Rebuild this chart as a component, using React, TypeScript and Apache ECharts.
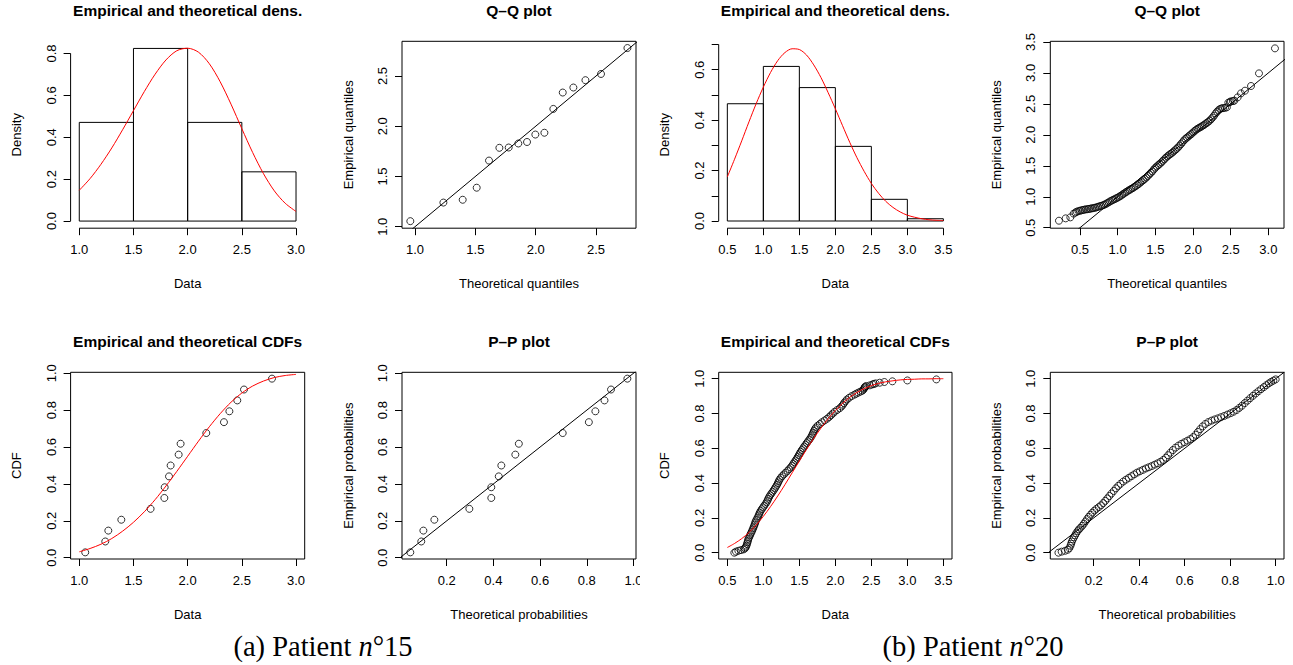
import React, { useEffect, useRef } from "react";
import * as echarts from "echarts";

// ---------- Patient 15 ----------
const p15Bins = [1.0, 1.5, 2.0, 2.5, 3.0];
const p15Density = [0.471, 0.824, 0.471, 0.235];
const p15CurveX = [1.0, 1.1, 1.2, 1.3, 1.4, 1.5, 1.6, 1.7, 1.8, 1.9, 2.0, 2.1, 2.2, 2.3, 2.4, 2.5, 2.6, 2.7, 2.8, 2.9, 3.0];
const p15DensCurve = [0.147, 0.203, 0.271, 0.349, 0.436, 0.527, 0.618, 0.701, 0.769, 0.813, 0.825, 0.806, 0.751, 0.665, 0.558, 0.441, 0.327, 0.226, 0.144, 0.085, 0.046];
const p15CdfCurve = [0.032, 0.05, 0.073, 0.104, 0.144, 0.192, 0.249, 0.315, 0.389, 0.468, 0.55, 0.632, 0.71, 0.781, 0.843, 0.893, 0.931, 0.958, 0.977, 0.988, 0.994];
const p15Data = [1.055, 1.24, 1.268, 1.388, 1.658, 1.785, 1.788, 1.828, 1.843, 1.917, 1.935, 2.172, 2.335, 2.385, 2.458, 2.52, 2.778];
const p15EmpProb = [0.029, 0.088, 0.147, 0.206, 0.265, 0.324, 0.382, 0.441, 0.5, 0.559, 0.618, 0.676, 0.735, 0.794, 0.853, 0.912, 0.971];
const p15TheoQuant = [0.961, 1.235, 1.395, 1.511, 1.613, 1.699, 1.776, 1.856, 1.928, 1.997, 2.072, 2.146, 2.224, 2.312, 2.412, 2.541, 2.76];
const p15TheoProb = [0.044, 0.091, 0.1, 0.147, 0.297, 0.391, 0.391, 0.423, 0.434, 0.494, 0.509, 0.697, 0.809, 0.837, 0.876, 0.904, 0.974];

// ---------- Patient 20 ----------
const p20Bins = [0.5, 1.0, 1.5, 2.0, 2.5, 3.0, 3.5];
const p20Density = [0.465, 0.613, 0.529, 0.296, 0.086, 0.009];
const p20CurveX = [0.5, 0.6, 0.7, 0.8, 0.9, 1.0, 1.1, 1.2, 1.3, 1.4, 1.5, 1.6, 1.7, 1.8, 1.9, 2.0, 2.1, 2.2, 2.3, 2.4, 2.5, 2.6, 2.7, 2.8, 2.9, 3.0, 3.1, 3.2, 3.3, 3.4, 3.5];
const p20DensCurve = [0.175, 0.245, 0.318, 0.393, 0.465, 0.531, 0.589, 0.636, 0.668, 0.683, 0.68, 0.658, 0.619, 0.569, 0.509, 0.445, 0.378, 0.312, 0.251, 0.197, 0.149, 0.11, 0.078, 0.054, 0.036, 0.023, 0.015, 0.009, 0.005, 0.003, 0.002];
const p20CdfCurve = [0.03, 0.053, 0.081, 0.116, 0.159, 0.209, 0.265, 0.326, 0.391, 0.459, 0.527, 0.594, 0.657, 0.716, 0.77, 0.817, 0.858, 0.893, 0.921, 0.943, 0.96, 0.973, 0.982, 0.988, 0.993, 0.996, 0.997, 0.999, 0.999, 1.0, 1.0];
const p20QQ = [
  [0.221, 0.613], [0.31, 0.651], [0.372, 0.667], [0.416, 0.727], [0.44, 0.745], [0.456, 0.758], [0.48, 0.768], [0.5, 0.775],
  [0.52, 0.781], [0.54, 0.787], [0.56, 0.792], [0.58, 0.796], [0.6, 0.8], [0.62, 0.804], [0.64, 0.808], [0.66, 0.813],
  [0.68, 0.818], [0.7, 0.823], [0.72, 0.83], [0.74, 0.838], [0.76, 0.846], [0.78, 0.853], [0.8, 0.86], [0.82, 0.87],
  [0.84, 0.882], [0.86, 0.895], [0.88, 0.91], [0.9, 0.925], [0.92, 0.938], [0.94, 0.95], [0.96, 0.962], [0.98, 0.974],
  [1.0, 0.986], [1.02, 1.0], [1.04, 1.015], [1.06, 1.032], [1.08, 1.05], [1.1, 1.066], [1.12, 1.082], [1.14, 1.098],
  [1.16, 1.112], [1.18, 1.126], [1.2, 1.14], [1.22, 1.156], [1.24, 1.172], [1.26, 1.19], [1.28, 1.208], [1.3, 1.228],
  [1.32, 1.248], [1.34, 1.268], [1.36, 1.288], [1.38, 1.31], [1.4, 1.335], [1.42, 1.36], [1.44, 1.385], [1.46, 1.41],
  [1.48, 1.44], [1.5, 1.468], [1.52, 1.49], [1.54, 1.512], [1.56, 1.532], [1.58, 1.555], [1.6, 1.58], [1.62, 1.605],
  [1.64, 1.63], [1.66, 1.652], [1.68, 1.672], [1.7, 1.69], [1.72, 1.708], [1.74, 1.728], [1.76, 1.75], [1.78, 1.772],
  [1.8, 1.795], [1.82, 1.822], [1.84, 1.85], [1.86, 1.88], [1.88, 1.91], [1.9, 1.935], [1.92, 1.955], [1.94, 1.975],
  [1.96, 1.995], [1.98, 2.015], [2.0, 2.038], [2.02, 2.06], [2.04, 2.08], [2.06, 2.098], [2.08, 2.112], [2.1, 2.125],
  [2.12, 2.14], [2.14, 2.155], [2.16, 2.172], [2.18, 2.19], [2.2, 2.208], [2.22, 2.228], [2.24, 2.252], [2.26, 2.28],
  [2.28, 2.31], [2.3, 2.345], [2.32, 2.375], [2.34, 2.4], [2.36, 2.418], [2.38, 2.428], [2.4, 2.432], [2.425, 2.436],
  [2.45, 2.445], [2.469, 2.52], [2.49, 2.53], [2.504, 2.541], [2.53, 2.545], [2.549, 2.552], [2.593, 2.606], [2.637, 2.67],
  [2.69, 2.713], [2.77, 2.789], [2.876, 2.993], [3.088, 3.397],
];
const p20Cdf = [
  [0.597, 0.0], [0.62, 0.006], [0.653, 0.011], [0.69, 0.015], [0.727, 0.019], [0.745, 0.025], [0.755, 0.031], [0.765, 0.04],
  [0.773, 0.05], [0.78, 0.06], [0.787, 0.07], [0.793, 0.08], [0.805, 0.09], [0.815, 0.1], [0.826, 0.11], [0.838, 0.12],
  [0.848, 0.13], [0.858, 0.14], [0.868, 0.15], [0.877, 0.16], [0.885, 0.17], [0.893, 0.18], [0.905, 0.19], [0.918, 0.2],
  [0.93, 0.21], [0.94, 0.22], [0.95, 0.23], [0.962, 0.24], [0.978, 0.25], [0.995, 0.26], [1.012, 0.27], [1.03, 0.28],
  [1.045, 0.29], [1.058, 0.3], [1.068, 0.31], [1.08, 0.32], [1.095, 0.33], [1.112, 0.34], [1.128, 0.35], [1.145, 0.36],
  [1.16, 0.37], [1.175, 0.38], [1.19, 0.39], [1.202, 0.4], [1.213, 0.41], [1.225, 0.42], [1.24, 0.43], [1.262, 0.44],
  [1.285, 0.45], [1.31, 0.46], [1.335, 0.47], [1.358, 0.48], [1.38, 0.49], [1.4, 0.5], [1.415, 0.51], [1.43, 0.52],
  [1.448, 0.53], [1.463, 0.54], [1.478, 0.55], [1.492, 0.56], [1.505, 0.57], [1.518, 0.58], [1.535, 0.59], [1.552, 0.6],
  [1.568, 0.61], [1.585, 0.62], [1.603, 0.63], [1.62, 0.64], [1.64, 0.65], [1.655, 0.66], [1.67, 0.67], [1.682, 0.68],
  [1.692, 0.69], [1.703, 0.7], [1.715, 0.71], [1.732, 0.72], [1.755, 0.73], [1.785, 0.74], [1.815, 0.75], [1.85, 0.76],
  [1.885, 0.77], [1.915, 0.78], [1.94, 0.79], [1.965, 0.8], [1.99, 0.81], [2.025, 0.82], [2.06, 0.83], [2.085, 0.84],
  [2.105, 0.85], [2.12, 0.86], [2.14, 0.87], [2.16, 0.88], [2.19, 0.89], [2.225, 0.9], [2.264, 0.908], [2.29, 0.914],
  [2.319, 0.92], [2.35, 0.926], [2.375, 0.931], [2.39, 0.937], [2.4, 0.944], [2.408, 0.95], [2.412, 0.954], [2.43, 0.958],
  [2.48, 0.962], [2.514, 0.967], [2.535, 0.97], [2.56, 0.973], [2.616, 0.977], [2.681, 0.981], [2.792, 0.985], [3.0, 0.99],
  [3.403, 0.996],
];
const p20PP = [
  [0.045, 0.0], [0.059, 0.006], [0.074, 0.011], [0.086, 0.017], [0.093, 0.026], [0.098, 0.04], [0.101, 0.052], [0.104, 0.064],
  [0.108, 0.076], [0.113, 0.088], [0.118, 0.1], [0.123, 0.112], [0.129, 0.124], [0.135, 0.134], [0.142, 0.143], [0.15, 0.155],
  [0.157, 0.167], [0.164, 0.18], [0.171, 0.193], [0.178, 0.206], [0.186, 0.218], [0.194, 0.23], [0.203, 0.242], [0.212, 0.252],
  [0.222, 0.262], [0.232, 0.272], [0.242, 0.285], [0.251, 0.298], [0.26, 0.312], [0.269, 0.326], [0.278, 0.34], [0.288, 0.355],
  [0.298, 0.37], [0.308, 0.384], [0.318, 0.396], [0.33, 0.409], [0.342, 0.42], [0.354, 0.43], [0.366, 0.44], [0.378, 0.45],
  [0.39, 0.46], [0.403, 0.468], [0.416, 0.476], [0.429, 0.484], [0.442, 0.491], [0.455, 0.498], [0.468, 0.506], [0.481, 0.514],
  [0.494, 0.523], [0.506, 0.533], [0.517, 0.546], [0.527, 0.56], [0.537, 0.575], [0.548, 0.59], [0.56, 0.604], [0.573, 0.616],
  [0.586, 0.626], [0.599, 0.635], [0.612, 0.644], [0.625, 0.653], [0.637, 0.664], [0.648, 0.678], [0.658, 0.694], [0.668, 0.71],
  [0.679, 0.726], [0.691, 0.74], [0.704, 0.751], [0.718, 0.759], [0.732, 0.766], [0.746, 0.772], [0.76, 0.779], [0.774, 0.786],
  [0.788, 0.794], [0.802, 0.802], [0.815, 0.81], [0.828, 0.82], [0.84, 0.832], [0.852, 0.845], [0.864, 0.86], [0.876, 0.874],
  [0.888, 0.888], [0.9, 0.902], [0.912, 0.915], [0.924, 0.928], [0.936, 0.94], [0.948, 0.952], [0.959, 0.963], [0.97, 0.973],
  [0.98, 0.982], [0.99, 0.989], [1.0, 0.996],
];

// ---------- tick values ----------
const ticksX15 = [1.0, 1.5, 2.0, 2.5, 3.0];
const ticksDens15 = [0.0, 0.2, 0.4, 0.6, 0.8];
const ticksQQ15 = [1.0, 1.5, 2.0, 2.5];
const ticksX20 = [0.5, 1.0, 1.5, 2.0, 2.5, 3.0, 3.5];
const ticksDens20 = [0.0, 0.1, 0.2, 0.3, 0.4, 0.5, 0.6, 0.7];
const labelsDens20 = [0.0, 0.2, 0.4, 0.6];
const ticksQQ20x = [0.5, 1.0, 1.5, 2.0, 2.5, 3.0];
const ticksQQ20y = [0.5, 1.0, 1.5, 2.0, 2.5, 3.0, 3.5];
const ticksProb = [0.0, 0.2, 0.4, 0.6, 0.8, 1.0];
const ticksProbX = [0.2, 0.4, 0.6, 0.8, 1.0];

const SANS = '"Liberation Sans", Arial, Helvetica, sans-serif';
const SERIF = '"Liberation Serif", "Times New Roman", serif';

type PanelSpec = {
  left: number; top: number; width: number; height: number; box: boolean;
  xMin: number; xMax: number; yMin: number; yMax: number;
  xTicks: number[]; xLabels: number[]; yTicks: number[]; yLabels: number[];
};

const panels: PanelSpec[] = [
  { left: 70.6, top: 41.3, width: 234.1, height: 186.9, box: false, xMin: 0.92, xMax: 3.08, yMin: -0.034, yMax: 0.858, xTicks: ticksX15, xLabels: ticksX15, yTicks: ticksDens15, yLabels: ticksDens15 },
  { left: 402, top: 41.3, width: 234, height: 186.9, box: true, xMin: 0.892, xMax: 2.831, yMin: 0.985, yMax: 2.845, xTicks: ticksQQ15, xLabels: ticksQQ15, yTicks: ticksQQ15, yLabels: ticksQQ15 },
  { left: 718.7, top: 41.3, width: 233.3, height: 186.9, box: false, xMin: 0.38, xMax: 3.62, yMin: -0.0285, yMax: 0.7126, xTicks: ticksX20, xLabels: ticksX20, yTicks: ticksDens20, yLabels: labelsDens20 },
  { left: 1050.3, top: 41.3, width: 233.7, height: 186.9, box: true, xMin: 0.106, xMax: 3.208, yMin: 0.492, yMax: 3.511, xTicks: ticksQQ20x, xLabels: ticksQQ20x, yTicks: ticksQQ20y, yLabels: ticksQQ20y },
  { left: 70.6, top: 372.3, width: 234.1, height: 186.7, box: true, xMin: 0.92, xMax: 3.08, yMin: -0.007, yMax: 1.0054, xTicks: ticksX15, xLabels: ticksX15, yTicks: ticksProb, yLabels: ticksProb },
  { left: 402, top: 372.3, width: 234, height: 186.7, box: true, xMin: 0.0084, xMax: 1.011, yMin: -0.007, yMax: 1.0054, xTicks: ticksProbX, xLabels: ticksProbX, yTicks: ticksProb, yLabels: ticksProb },
  { left: 718.7, top: 372.3, width: 233.3, height: 186.7, box: true, xMin: 0.38, xMax: 3.62, yMin: -0.0362, yMax: 1.0368, xTicks: ticksX20, xLabels: ticksX20, yTicks: ticksProb, yLabels: ticksProb },
  { left: 1050.3, top: 372.3, width: 233.7, height: 186.7, box: true, xMin: 0.0092, xMax: 1.0365, yMin: -0.0362, yMax: 1.0368, xTicks: ticksProbX, xLabels: ticksProbX, yTicks: ticksProb, yLabels: ticksProb },
];

const mainTitles = [
  "Empirical and theoretical dens.", "Q–Q plot", "Empirical and theoretical dens.", "Q–Q plot",
  "Empirical and theoretical CDFs", "P–P plot", "Empirical and theoretical CDFs", "P–P plot",
];
const xTitles = ["Data", "Theoretical quantiles", "Data", "Theoretical quantiles", "Data", "Theoretical probabilities", "Data", "Theoretical probabilities"];
const yTitles = ["Density", "Empirical quantiles", "Density", "Empirical quantiles", "CDF", "Empirical probabilities", "CDF", "Empirical probabilities"];

const fmt = (v: number) => Number(v).toFixed(1);

function buildOption() {
  const grid = panels.map((p) => ({
    left: p.left, top: p.top, width: p.width, height: p.height,
    show: p.box, borderColor: "#000", borderWidth: 1, backgroundColor: "transparent",
    containLabel: false, outerBoundsMode: "none",
  }));
  const xAxis = panels.map((p, i) => ({
    type: "value", gridIndex: i, min: p.xMin, max: p.xMax, position: "bottom",
    axisLine: { show: false, onZero: false },
    splitLine: { show: false },
    axisTick: { show: true, inside: false, length: 7, customValues: p.xTicks, lineStyle: { color: "#000", width: 1 } },
    axisLabel: { show: true, customValues: p.xLabels, margin: 15, fontSize: 13, fontFamily: SANS, color: "#000", formatter: fmt },
  }));
  const yAxis = panels.map((p, i) => ({
    type: "value", gridIndex: i, min: p.yMin, max: p.yMax, position: "left",
    axisLine: { show: false, onZero: false },
    splitLine: { show: false },
    axisTick: { show: true, inside: false, length: 7, customValues: p.yTicks, lineStyle: { color: "#000", width: 1 } },
    axisLabel: { show: true, customValues: p.yLabels, rotate: 90, margin: 13, fontSize: 13, fontFamily: SANS, color: "#000", formatter: fmt },
  }));

  const series: any[] = [];
  const histo = (gi: number, bins: number[], dens: number[]) => ({
    type: "custom", xAxisIndex: gi, yAxisIndex: gi, silent: true,
    data: dens.map((d, k) => [bins[k], bins[k + 1], d]),
    encode: { x: [0, 1], y: 2 },
    renderItem: (_params: any, api: any) => {
      const a = api.coord([api.value(0), api.value(2)]);
      const b = api.coord([api.value(1), 0]);
      return {
        type: "rect",
        shape: { x: a[0], y: a[1], width: b[0] - a[0], height: b[1] - a[1] },
        style: { fill: "none", stroke: "#000", lineWidth: 1 },
      };
    },
  });
  const line = (gi: number, data: number[][], color: string, smooth: boolean | number, clip = true) => ({
    type: "line", xAxisIndex: gi, yAxisIndex: gi, data, showSymbol: false, symbol: "none", smooth,
    lineStyle: { color, width: 1 }, silent: true, clip, animation: false, z: 3,
  });
  const pts = (gi: number, data: number[][]) => ({
    type: "scatter", xAxisIndex: gi, yAxisIndex: gi, data, symbol: "circle", symbolSize: 7, silent: true,
    itemStyle: { color: "rgba(0,0,0,0)", borderColor: "#000", borderWidth: 1 }, z: 2,
  });
  const zip = (a: number[], b: number[]) => a.map((v, k) => [v, b[k]]);

  // P1 density p15
  series.push(histo(0, p15Bins, p15Density));
  series.push(line(0, zip(p15CurveX, p15DensCurve), "#ff0000", 0.3));
  series.push(line(0, [[ticksX15[0], panels[0].yMin], [ticksX15[ticksX15.length - 1], panels[0].yMin]], "#000", false, false));
  series.push(line(0, [[panels[0].xMin, ticksDens15[0]], [panels[0].xMin, ticksDens15[ticksDens15.length - 1]]], "#000", false, false));
  // P2 QQ p15
  series.push(pts(1, zip(p15TheoQuant, p15Data)));
  series.push(line(1, [[0, 0], [4, 4]], "#000", false));
  // P3 density p20
  series.push(histo(2, p20Bins, p20Density));
  series.push(line(2, zip(p20CurveX, p20DensCurve), "#ff0000", 0.3));
  series.push(line(2, [[ticksX20[0], panels[2].yMin], [ticksX20[ticksX20.length - 1], panels[2].yMin]], "#000", false, false));
  series.push(line(2, [[panels[2].xMin, ticksDens20[0]], [panels[2].xMin, ticksDens20[ticksDens20.length - 1]]], "#000", false, false));
  // P4 QQ p20
  series.push(pts(3, p20QQ));
  series.push(line(3, [[0, 0], [4, 4]], "#000", false));
  // P5 CDF p15
  series.push(pts(4, zip(p15Data, p15EmpProb)));
  series.push(line(4, zip(p15CurveX, p15CdfCurve), "#ff0000", 0.3));
  // P6 PP p15
  series.push(pts(5, zip(p15TheoProb, p15EmpProb)));
  series.push(line(5, [[-1, -1], [2, 2]], "#000", false));
  // P7 CDF p20
  series.push(pts(6, p20Cdf));
  series.push(line(6, zip(p20CurveX, p20CdfCurve), "#ff0000", 0.3));
  // P8 PP p20
  series.push(pts(7, p20PP));
  series.push(line(7, [[-1, -1], [2, 2]], "#000", false));

  const graphic: any[] = [];
  const txt = (x: number, y: number, text: string, font: string, rot = 0) => ({
    type: "text", x, y, rotation: rot, silent: true, z: 50,
    style: { text, font, fill: "#000", align: "center", verticalAlign: "middle", textAlign: "center", textVerticalAlign: "middle" },
  });
  panels.forEach((p, i) => {
    const cx = p.left + p.width / 2;
    const cy = p.top + p.height / 2;
    const row = i < 4 ? 0 : 1;
    graphic.push(txt(cx, row === 0 ? 10 : 341, mainTitles[i], `bold 15.5px ${SANS}`));
    graphic.push(txt(cx, p.top + p.height + 55.5, xTitles[i], `13px ${SANS}`));
    graphic.push(txt(p.left - 54, cy, yTitles[i], `13px ${SANS}`, Math.PI / 2));
  });
  // clipped edge of the left sub-figure
  graphic.push({ type: "rect", z: 100, silent: true, shape: { x: 640, y: 563, width: 12, height: 32 }, style: { fill: "#fff" } });
  const cap = (x: number, label: string, num: string) => ({
    type: "text", x, y: 646, silent: true, z: 50,
    style: {
      text: `${label} Patient {i|n}°${num}`, fontFamily: SERIF, fontSize: 28.5, fill: "#000",
      align: "center", verticalAlign: "middle", textAlign: "center", textVerticalAlign: "middle",
      rich: { i: { fontStyle: "italic", fontFamily: SERIF, fontSize: 28.5, fill: "#000" } },
    },
  });
  graphic.push(cap(323, "(a)", "15"));
  graphic.push(cap(973, "(b)", "20"));

  return { animation: false, backgroundColor: "#fff", grid, xAxis, yAxis, series, graphic };
}

export default function App() {
  const ref = useRef<HTMLDivElement>(null);
  useEffect(() => {
    if (!ref.current) return;
    const chart = echarts.init(ref.current, null, { renderer: "svg" });
    chart.setOption(buildOption() as any);
    return () => chart.dispose();
  }, []);
  return <div ref={ref} style={{ position: "fixed", left: 0, top: 0, width: 1293, height: 665, background: "#fff" }} />;
}
